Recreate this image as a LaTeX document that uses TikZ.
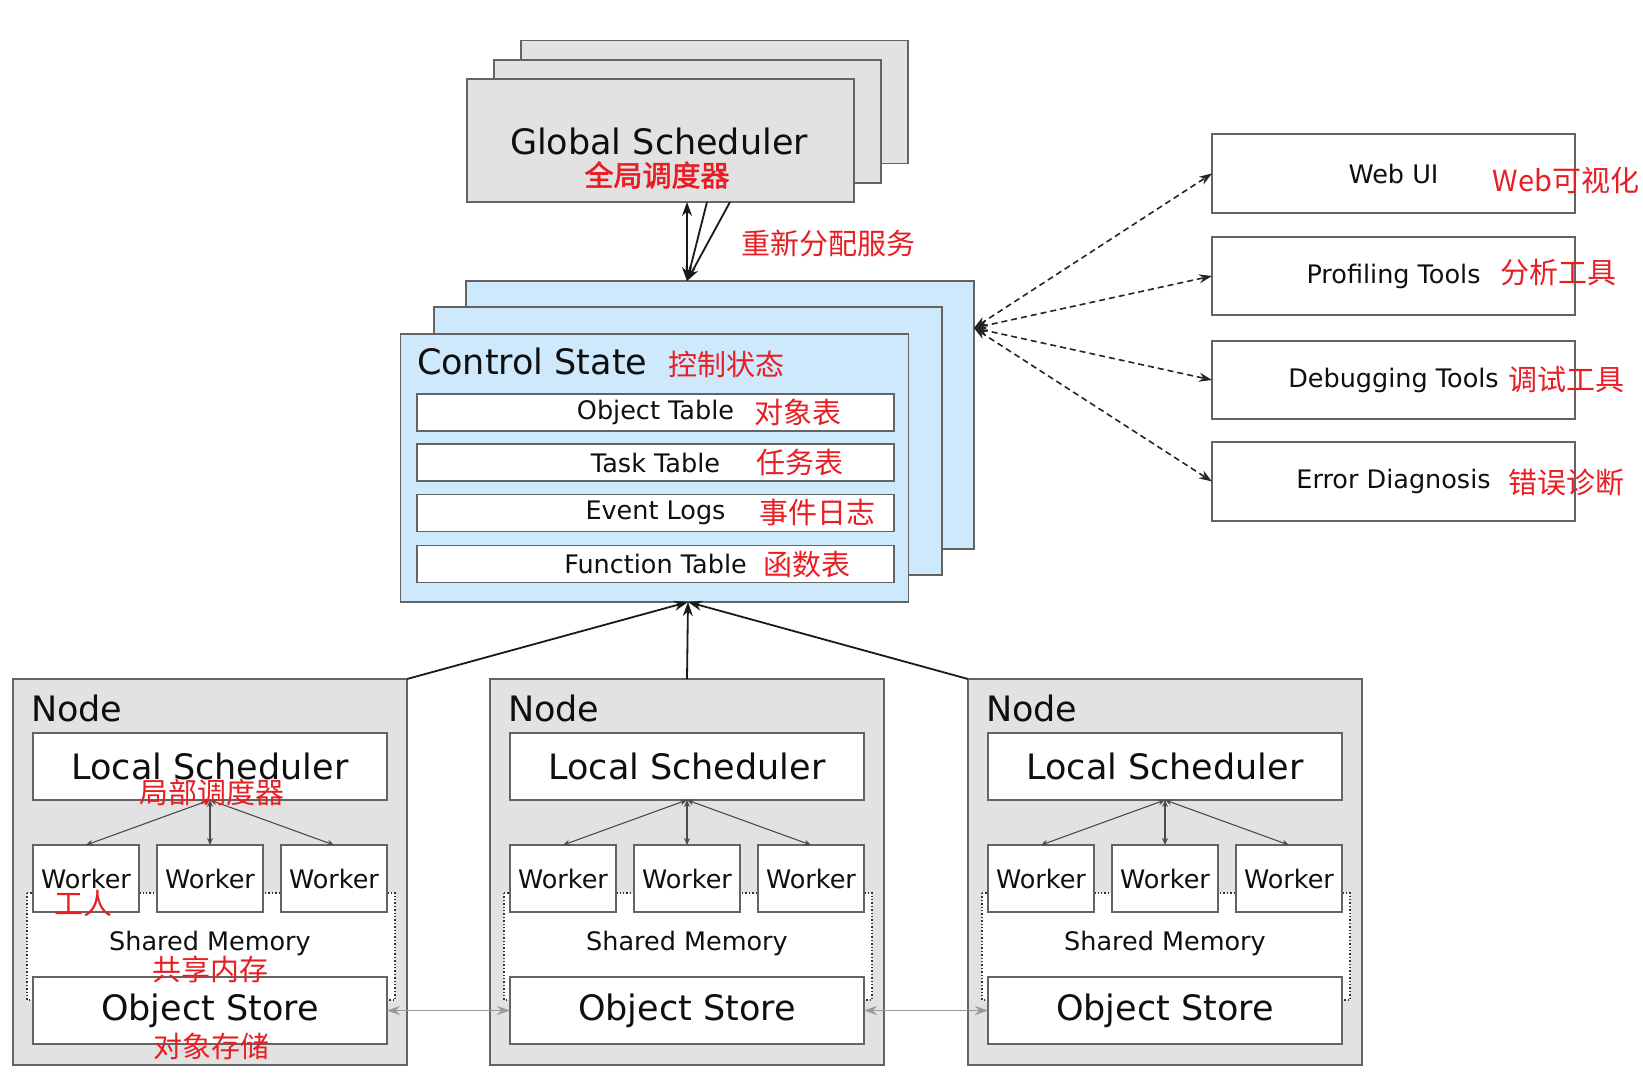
\documentclass[tikz,border=0pt]{standalone}
\usepackage{fontspec}
\setmainfont{DejaVu Sans}
\newfontfamily\cjk{Noto Sans CJK SC}
\newfontfamily\cjkbold[FakeBold=2]{Noto Sans CJK SC}
\usetikzlibrary{arrows.meta,calc}
\definecolor{boxgray}{RGB}{226,226,226}
\definecolor{csblue}{RGB}{206,233,251}
\definecolor{cnred}{RGB}{232,30,36}
\definecolor{edge}{RGB}{100,100,100}
\definecolor{txt}{RGB}{15,15,15}
\begin{document}
\begin{tikzpicture}[x=1pt,y=-1pt,
  every node/.style={inner sep=0pt, outer sep=0pt},
  frame/.style={draw=edge, line width=1.4pt},
  graybox/.style={frame, fill=boxgray},
  bluebox/.style={frame, fill=csblue},
  whitebox/.style={frame, fill=white},
  big/.style={font=\fontsize{35}{40}\selectfont, text=txt},
  mid/.style={font=\fontsize{25.5}{30}\selectfont, text=txt},
  cn/.style={font=\cjk\fontsize{29}{32}\selectfont, text=cnred},
  link/.style={line width=1.8pt, draw=black!90},
  uptip/.style={-{Stealth[length=14pt,width=10pt]}},
  bothtip/.style={{Stealth[length=14pt,width=10pt]}-{Stealth[length=14pt,width=10pt]}},
  tooledge/.style={line width=1.6pt, draw=black!85, dash pattern=on 6pt off 4pt,
     {Stealth[length=13pt,width=9pt]}-{Stealth[length=13pt,width=9pt]}},
  lsedge/.style={line width=1.1pt, draw=black!70,
     {Stealth[length=7pt,width=6pt]}-{Stealth[length=7pt,width=6pt]}},
  osedge/.style={line width=1.1pt, draw=black!40,
     {Stealth[length=13pt,width=9pt]}-{Stealth[length=13pt,width=9pt]}},
  smem/.style={fill=white, draw=black!80, line width=1.4pt, dotted}
]
\useasboundingbox (0,0) rectangle (1643,1077);
\fill[white] (0,0) rectangle (1643,1077);

% ---------- Global scheduler stack ----------
\node[graybox, minimum width=387pt, minimum height=123pt] (gsback) at (714.5,102) {};
\node[graybox, minimum width=387pt, minimum height=123pt] (gsmid) at (687.5,121.5) {};
\node[graybox, minimum width=387pt, minimum height=123pt] (gs) at (660.5,140.5) {};
\node[big] (gstext) at (659,141) {Global Scheduler};

% ---------- Control state stack ----------
\node[bluebox, minimum width=508pt, minimum height=268pt] (csback) at (720,415) {};
\node[bluebox, minimum width=508pt, minimum height=268pt] (csmid) at (688,441) {};
\node[bluebox, minimum width=508pt, minimum height=268pt] (cs) at (654.5,468) {};
\node[big, anchor=west] (cstext) at (417,361) {Control State};
\node[whitebox, mid, minimum width=477pt, minimum height=37pt] (r1) at (655.5,412.5) {Object Table};
\node[whitebox, mid, minimum width=477pt, minimum height=37pt] (r2) at (655.5,462.5) {Task Table};
\node[whitebox, mid, minimum width=477pt, minimum height=37pt] (r3) at (655.5,513) {Event Logs};
\node[whitebox, mid, minimum width=477pt, minimum height=37pt] (r4) at (655.5,564) {Function Table};

% ---------- Tool boxes ----------
\node[whitebox, mid, minimum width=363pt, minimum height=79pt] (web) at (1393.5,173.5) {Web UI};
\node[whitebox, mid, minimum width=363pt, minimum height=78pt] (prof) at (1393.5,276) {Profiling Tools};
\node[whitebox, mid, minimum width=363pt, minimum height=78pt] (dbg) at (1393.5,380) {Debugging Tools};
\node[whitebox, mid, minimum width=363pt, minimum height=79pt] (err) at (1393.5,481.5) {Error Diagnosis};

% ---------- Nodes ----------
\foreach \i/\L in {1/13,2/490,3/968}{
  \node[graybox, minimum width=394pt, minimum height=386pt] (n\i) at (\L+197,872) {};
  \node[big, anchor=west] (nt\i) at (\L+18,708) {Node};
  \draw[smem] (\L+14,893) rectangle (\L+382,1000);
  \node[whitebox, big, minimum width=354pt, minimum height=67pt] (ls\i) at (\L+197,766.5) {Local Scheduler};
  \node[whitebox, mid, minimum width=106pt, minimum height=67pt] (wa\i) at (\L+73,878.5) {Worker};
  \node[whitebox, mid, minimum width=106pt, minimum height=67pt] (wb\i) at (\L+197,878.5) {Worker};
  \node[whitebox, mid, minimum width=106pt, minimum height=67pt] (wc\i) at (\L+321,878.5) {Worker};
  \node[mid] (sm\i) at (\L+197,943) {Shared Memory};
  \node[whitebox, big, minimum width=354pt, minimum height=67pt] (os\i) at (\L+197,1010.5) {Object Store};
  \draw[lsedge] (ls\i.south) -- (wa\i.north);
  \draw[lsedge] (ls\i.south) -- (wb\i.north);
  \draw[lsedge] (ls\i.south) -- (wc\i.north);
}

% ---------- Connectors ----------
\coordinate (gout1) at (687,202);
\coordinate (gout2) at (707,202);
\coordinate (gout3) at (730,202);
\coordinate (csin) at (687,281);
\draw[link, bothtip] (gout1) -- (csin);
\draw[link, uptip] (gout2) -- (csin);
\draw[link, uptip] (gout3) -- (csin);

\coordinate (csbot) at (688,602);
\draw[link, uptip] (n1.north east) -- (csbot);
\draw[link, uptip] (n2.north) -- (csbot);
\draw[link, uptip] (n3.north west) -- (csbot);

\coordinate (dsrc) at (974,328);
\draw[tooledge] (dsrc) -- (web.west);
\draw[tooledge] (dsrc) -- (prof.west);
\draw[tooledge] (dsrc) -- (dbg.west);
\draw[tooledge] (dsrc) -- (err.west);

\draw[osedge] (os1.east) -- (os2.west);
\draw[osedge] (os2.east) -- (os3.west);

% ---------- Chinese labels ----------
\node[cn, font=\cjkbold\fontsize{29}{32}\selectfont] (gscn) at (657,175) {全局调度器};
\node[cn] (redis) at (828,243) {重新分配服务};
\node[cn] (cscn) at (726,364) {控制状态};
\node[cn] (r1cn) at (798,412.5) {对象表};
\node[cn] (r2cn) at (800,462.5) {任务表};
\node[cn] (r3cn) at (817,513) {事件日志};
\node[cn] (r4cn) at (807,564) {函数表};
\node[cn] (webcn) at (1566,180) {Web可视化};
\node[cn] (profcn) at (1558,273) {分析工具};
\node[cn] (dbgcn) at (1566,380) {调试工具};
\node[cn] (errcn) at (1566,483) {错误诊断};
\node[cn] (lscn) at (212,792) {局部调度器};
\node[cn] (wcn) at (83,903) {工人};
\node[cn] (smcn) at (210,969) {共享内存};
\node[cn] (oscn) at (211,1046) {对象存储};
\end{tikzpicture}
\end{document}
